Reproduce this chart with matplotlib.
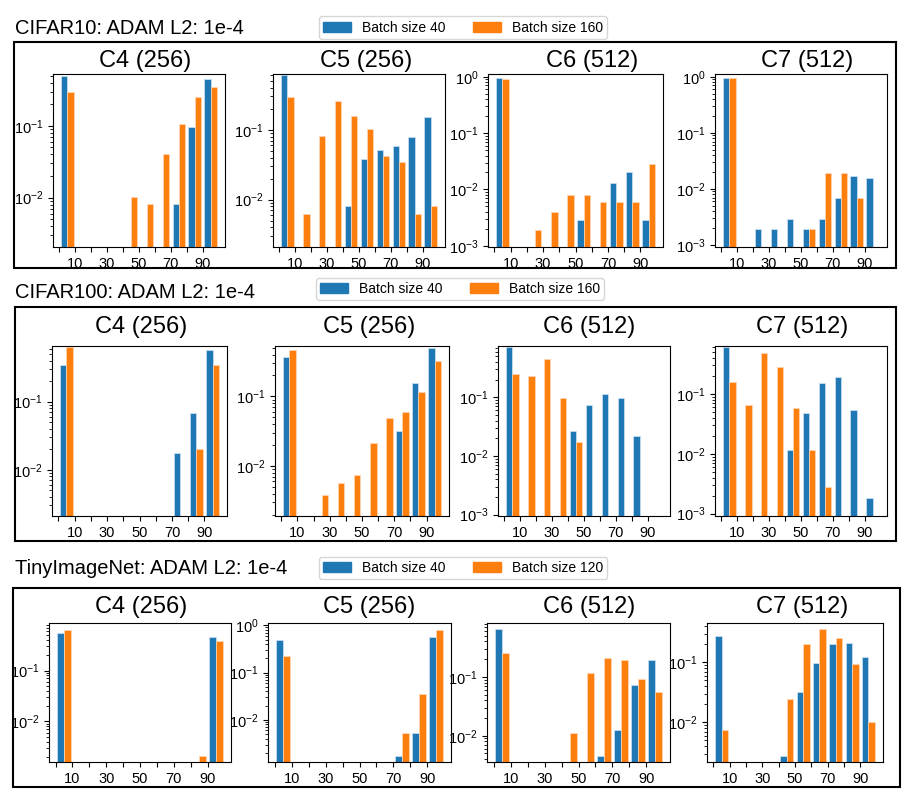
import numpy as np
import matplotlib
matplotlib.use('Agg')
import matplotlib.pyplot as plt
from matplotlib.patches import Rectangle, Patch

plt.rcParams['font.family'] = ['Liberation Sans', 'DejaVu Sans']
plt.rcParams['mathtext.fontset'] = 'custom'
plt.rcParams['mathtext.rm'] = 'Liberation Sans'
plt.rcParams['mathtext.it'] = 'Liberation Sans:italic'
plt.rcParams['mathtext.bf'] = 'Liberation Sans:bold'

# histogramas en bins de 10 (0-10, 10-20, ..., 90-100)
bin_centers = np.arange(5, 100, 10)
tick_pos = np.arange(0, 100, 10)
tick_labels = ['', '10', '', '30', '', '50', '', '70', '', '90']
layer_titles = ['C4 (256)', 'C5 (256)', 'C6 (512)', 'C7 (512)']
row_titles = ['CIFAR10: ADAM L2: 1e-4', 'CIFAR100: ADAM L2: 1e-4',
              'TinyImageNet: ADAM L2: 1e-4']
label_small = ['Batch size 40', 'Batch size 40', 'Batch size 40']
label_large = ['Batch size 160', 'Batch size 160', 'Batch size 120']

# CIFAR10
c10_c4_small = [0.493, 0, 0, 0, 0, 0, 0, 0.0082, 0.097, 0.447]
c10_c4_large = [0.292, 0, 0, 0, 0.0102, 0.0082, 0.041, 0.105, 0.254, 0.343]
c10_c5_small = [0.608, 0, 0, 0, 0.0082, 0.038, 0.0515, 0.058, 0.079, 0.151]
c10_c5_large = [0.299, 0.0062, 0.081, 0.262, 0.159, 0.101, 0.042, 0.034, 0.0062, 0.0082]
c10_c6_small = [0.96, 0, 0, 0, 0, 0.0029, 0, 0.0131, 0.0203, 0.0029]
c10_c6_large = [0.93, 0, 0.0019, 0.004, 0.008, 0.008, 0.006, 0.006, 0.006, 0.0287]
c10_c7_small = [0.96, 0, 0.0019, 0.0019, 0.0029, 0.0019, 0.0029, 0.0068, 0.0172, 0.0159]
c10_c7_large = [0.96, 0, 0, 0, 0, 0.0019, 0.0192, 0.0192, 0.0068, 0]

# CIFAR100
c100_c4_small = [0.340, 0, 0, 0, 0, 0, 0, 0.0179, 0.069, 0.564]
c100_c4_large = [0.631, 0, 0, 0, 0, 0, 0, 0, 0.020, 0.344]
c100_c5_small = [0.365, 0, 0, 0, 0, 0, 0, 0.0313, 0.158, 0.495]
c100_c5_large = [0.459, 0, 0.0038, 0.0057, 0.0075, 0.0213, 0.049, 0.060, 0.117, 0.320]
c100_c6_small = [0.717, 0, 0, 0, 0.0264, 0.0731, 0.115, 0.0987, 0.0223, 0]
c100_c6_large = [0.249, 0.227, 0.454, 0.096, 0.0176, 0, 0, 0, 0, 0]
c100_c7_small = [0.607, 0, 0, 0, 0.0115, 0.0489, 0.155, 0.190, 0.0548, 0.0018]
c100_c7_large = [0.158, 0.0664, 0.477, 0.286, 0.0584, 0.0115, 0.00275, 0, 0, 0]

# TinyImageNet
tin_c4_small = [0.546, 0, 0, 0, 0, 0, 0, 0, 0, 0.455]
tin_c4_large = [0.625, 0, 0, 0, 0, 0, 0, 0, 0.0021, 0.379]
tin_c5_small = [0.488, 0, 0, 0, 0, 0, 0, 0.0017, 0.0053, 0.565]
tin_c5_large = [0.219, 0, 0, 0, 0, 0, 0, 0.0053, 0.0346, 0.796]
tin_c6_small = [0.640, 0, 0, 0, 0, 0, 0.0045, 0.0127, 0.072, 0.195]
tin_c6_large = [0.255, 0, 0, 0, 0.011, 0.117, 0.206, 0.193, 0.091, 0.0546]
tin_c7_small = [0.278, 0, 0, 0, 0.0027, 0.032, 0.0987, 0.199, 0.212, 0.123]
tin_c7_large = [0.0073, 0, 0, 0, 0.0247, 0.204, 0.356, 0.251, 0.095, 0.010]

data = [
    [(c10_c4_small, c10_c4_large), (c10_c5_small, c10_c5_large),
     (c10_c6_small, c10_c6_large), (c10_c7_small, c10_c7_large)],
    [(c100_c4_small, c100_c4_large), (c100_c5_small, c100_c5_large),
     (c100_c6_small, c100_c6_large), (c100_c7_small, c100_c7_large)],
    [(tin_c4_small, tin_c4_large), (tin_c5_small, tin_c5_large),
     (tin_c6_small, tin_c6_large), (tin_c7_small, tin_c7_large)],
]

ylims = [
    [(0.00205, 0.526), (0.0021, 0.628), (0.00095, 1.12), (0.00092, 1.12)],
    [(0.0021, 0.653), (0.00191, 0.530), (0.00095, 0.746), (0.000914, 0.631)],
    [(0.0016, 0.859), (0.00128, 1.12), (0.00358, 0.821), (0.00217, 0.454)],
]

# layout en pixeles (figura de 909x792)
W, H = 909, 792
axes_px = [
    [(53, 225), (273, 445), (488, 663), (715, 887)],
    [(52, 227), (275, 449), (498, 670), (715, 887)],
    [(49, 231), (268, 451), (487, 670), (707, 883)],
]
rows_y = [(74, 247), (346, 516), (623, 762)]
title_x = [[145, 366, 592, 807], [141, 369, 589, 802], [141, 369, 589, 802]]
title_y = [61, 327, 607]
group_y = [28, 292, 569]
legend_xy = [(463, 27.5), (460, 289), (463, 568)]
boxes = [(14, 42, 896, 268), (15, 307, 896, 541), (13, 588, 900, 787)]

blue = '#1f77b4'
orange = '#ff7f0e'

fig = plt.figure(figsize=(9.09, 7.92), dpi=100)

for r in range(3):
    top, bottom = rows_y[r]
    for c in range(4):
        left, right = axes_px[r][c]
        ax = fig.add_axes([left / W, 1 - bottom / H, (right - left) / W, (bottom - top) / H])
        small, large = data[r][c]
        ax.bar(bin_centers - 2, small, width=4, color=blue, edgecolor='#cfe3f2', linewidth=0.5)
        ax.bar(bin_centers + 2, large, width=4, color=orange, edgecolor='#ffd9b8', linewidth=0.5)
        ax.set_yscale('log')
        ax.set_ylim(*ylims[r][c])
        ax.set_xlim(-3.9, 103.9)
        ax.set_xticks(tick_pos)
        ax.set_xticklabels(tick_labels)
        ax.tick_params(labelsize=10.5)
        fig.text(title_x[r][c] / W, 1 - title_y[r] / H, layer_titles[c],
                 ha='center', va='center', fontsize=17)

    fig.text(15 / W, 1 - group_y[r] / H, row_titles[r], ha='left', va='center', fontsize=14.5)
    handles = [Patch(color=blue), Patch(color=orange)]
    fig.legend(handles, [label_small[r], label_large[r]], loc='center',
               bbox_to_anchor=(legend_xy[r][0] / W, 1 - legend_xy[r][1] / H),
               ncol=2, fontsize=10, borderpad=0.3)
    l, t, rr, b = boxes[r]
    fig.add_artist(Rectangle((l / W, 1 - b / H), (rr - l) / W, (b - t) / H,
                             transform=fig.transFigure, fill=False,
                             edgecolor='black', linewidth=1.5))

plt.savefig('out.png', dpi=100)
plt.close()
